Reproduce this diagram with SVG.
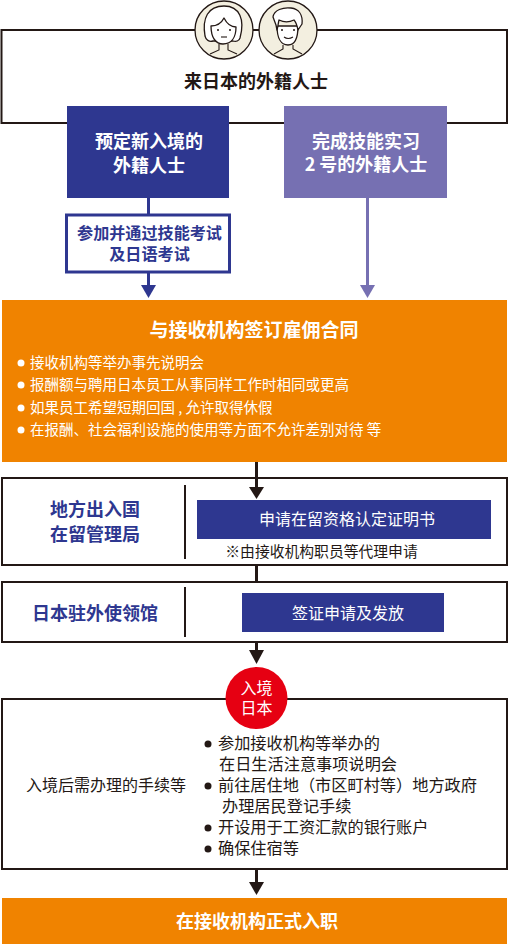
<svg xmlns="http://www.w3.org/2000/svg" width="510" height="944" viewBox="0 0 510 944">
<defs>
<style>
text{font-family:"Noto Sans CJK SC","Noto Sans CJK JP",sans-serif;text-anchor:middle}
.box{fill:#fff;stroke:#231815;stroke-width:2}
.dark{stroke:#231815;stroke-width:3;fill:none}
.ah{fill:#231815}
.b{font-weight:700}
.n{fill:#2e3790}
.w{fill:#fff}
.l{text-anchor:start;fill:#fff;font-size:14.500px}
.k{fill:#231815}
.i{text-anchor:start;fill:#231815;font-size:16.200px}
.face{fill:#f3efe0;stroke:#231815;stroke-width:1.300}
.draw{fill:#fff;stroke:#231815;stroke-width:1.300;stroke-linejoin:round}
.thin{fill:none;stroke:#231815;stroke-width:1.100}
</style>
</defs>
<rect width="510" height="944" fill="#fff"/>
<g id="foreign-residents">
<rect class="box" x="1.500" y="30" width="505.500" height="93"/>
<text class="b k" x="256" y="88" font-size="18">来日本的外籍人士</text>
<g id="woman">
<circle class="face" cx="224" cy="30" r="29"/>
<path class="draw" d="M205 36C202 18 208 6 224 6C240 6 245 20 240 38C239 41 236 42 233 41L213 41C209 42 206 40 205 36Z"/>
<path class="draw" d="M211 26C218 26 222 22 224 18C227 24 232 27 236 27C236 38 231 44 223 44C216 44 211 38 211 26Z"/>
<path class="thin" d="M219 44V50L210 54M228 44V50L237 54"/>
<circle class="ah" cx="218" cy="30" r="1"/><circle class="ah" cx="230" cy="30" r="1"/>
<path class="thin" d="M221 37H227"/>
</g>
<g id="man">
<circle class="face" cx="288" cy="30" r="29"/>
<path class="draw" d="M277 26C283 26 294 26 298 26C298 38 295 45 288 45C281 45 277 38 277 26Z"/>
<path class="draw" d="M276 25L273 17C274 10 283 7 291 8C299 9 303 15 302 24L298 30C297 25 296 22 294 20C288 23 283 22 279 20C278 24 278 27 277 30Z"/>
<path class="thin" d="M283 45V49L274 54M293 45V49L302 54"/>
<circle class="ah" cx="282" cy="30" r="1"/><circle class="ah" cx="294" cy="30" r="1"/>
<path class="thin" d="M284 37Q288 40 293 37"/>
</g>
</g>
<g id="new-entry">
<rect x="67" y="106" width="162" height="92" fill="#2e3790"/>
<text class="b w" x="149" y="148" font-size="18">预定新入境的</text>
<text class="b w" x="149" y="172" font-size="18">外籍人士</text>
</g>
<g id="tech-intern">
<rect x="284" y="106" width="163" height="92" fill="#7670b2"/>
<text class="b w" x="366" y="148" font-size="18">完成技能实习</text>
<text class="b w" x="366" y="171" font-size="18">2 号的外籍人士</text>
</g>
<g id="exam">
<rect x="66.500" y="215" width="163" height="57" fill="#fff" stroke="#2e3790" stroke-width="3"/>
<text class="b n" x="149.500" y="239" font-size="16.100">参加并通过技能考试</text>
<text class="b n" x="149.500" y="260" font-size="16.100">及日语考试</text>
</g>
<g id="contract">
<rect x="2" y="300" width="505" height="162" fill="#f08300"/>
<text class="b w" x="254" y="337" font-size="19">与接收机构签订雇佣合同</text>
<circle class="w" cx="21" cy="363" r="3.500"/><text class="l" x="30" y="368">接收机构等举办事先说明会</text>
<circle class="w" cx="21" cy="385" r="3.500"/><text class="l" x="30" y="390">报酬额与聘用日本员工从事同样工作时相同或更高</text>
<circle class="w" cx="21" cy="408" r="3.500"/><text class="l" x="30" y="413">如果员工希望短期回国 , 允许取得休假</text>
<circle class="w" cx="21" cy="430" r="3.500"/><text class="l" x="30" y="435">在报酬、社会福利设施的使用等方面不允许差别对待 等</text>
</g>
<g id="immigration">
<rect class="box" x="2" y="478" width="505" height="87"/>
<path d="M185 485V559" stroke="#231815" stroke-width="2"/>
<text class="b n" x="95" y="516" font-size="18">地方出入国</text>
<text class="b n" x="95" y="541" font-size="18">在留管理局</text>
<rect x="197" y="500" width="294" height="39" fill="#2e3790"/>
<text class="w" x="347" y="525" font-size="16">申请在留资格认定证明书</text>
<text class="k" x="321.500" y="557" font-size="14.800">※由接收机构职员等代理申请</text>
</g>
<g id="embassy">
<rect class="box" x="2" y="582" width="505" height="60"/>
<path d="M185 587V637" stroke="#231815" stroke-width="2"/>
<text class="b n" x="95" y="620" font-size="18">日本驻外使领馆</text>
<rect x="242" y="593" width="202" height="39" fill="#2e3790"/>
<text class="w" x="348" y="619" font-size="16">签证申请及发放</text>
</g>
<g id="after-entry">
<rect class="box" x="2" y="699" width="505" height="170"/>
<text class="k" x="106" y="791" font-size="16">入境后需办理的手续等</text>
<circle class="ah" cx="208" cy="744" r="3.500"/><text class="i" x="218" y="749">参加接收机构等举办的</text>
<text class="i" x="219" y="770">在日生活注意事项说明会</text>
<circle class="ah" cx="208" cy="786" r="3.500"/><text class="i" x="218" y="791">前往居住地（市区町村等）地方政府</text>
<text class="i" x="222" y="812">办理居民登记手续</text>
<circle class="ah" cx="208" cy="828" r="3.500"/><text class="i" x="218" y="833">开设用于工资汇款的银行账户</text>
<circle class="ah" cx="208" cy="849" r="3.500"/><text class="i" x="218" y="854">确保住宿等</text>
</g>
<g id="entry-japan">
<circle cx="256.500" cy="698" r="31" fill="#e60012"/>
<text class="w" x="256.500" y="694" font-size="16">入境</text>
<text class="w" x="256.500" y="714" font-size="16">日本</text>
</g>
<g id="start-work">
<rect x="2" y="898" width="505" height="46" fill="#f08300"/>
<text class="b w" x="257" y="928" font-size="18">在接收机构正式入职</text>
</g>
<g id="connectors">
<path d="M148.500 198V215M148.500 272V287" stroke="#2e3790" stroke-width="3" fill="none"/>
<path d="M141 285H156L148.500 298Z" fill="#2e3790"/>
<path d="M367.500 198V287" stroke="#7670b2" stroke-width="3" fill="none"/>
<path d="M360 285H375L367.500 298Z" fill="#7670b2"/>
<path class="dark" d="M256.500 462V489"/><path class="ah" d="M249 487H264L256.500 499Z"/>
<path class="dark" d="M256.500 565V582"/>
<path class="dark" d="M256.500 643V652"/><path class="ah" d="M249 650H264L256.500 664Z"/>
<path class="dark" d="M256.500 869V884"/><path class="ah" d="M249 882H264L256.500 895Z"/>
</g>
</svg>
